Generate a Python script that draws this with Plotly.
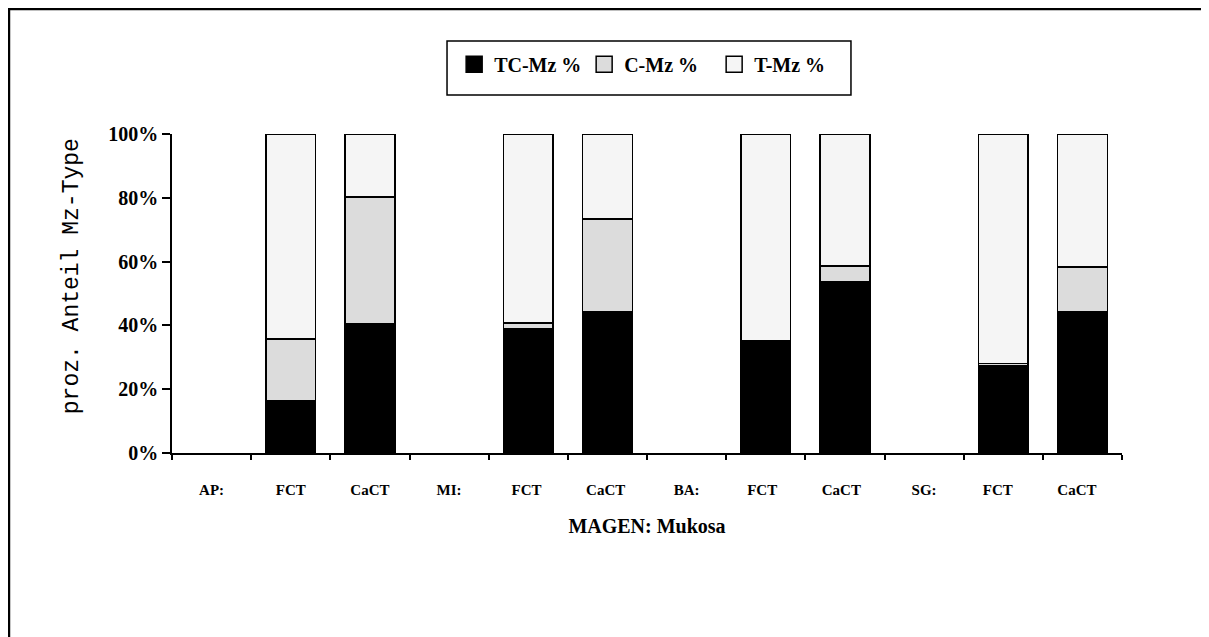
import plotly.graph_objects as go

# ---- data ----
categories = ["AP:", "FCT", "CaCT", "MI:", "FCT", "CaCT", "BA:", "FCT", "CaCT", "SG:", "FCT", "CaCT"]
tc_mz = [None, 16.5, 40.5, None, 38.9, 44.2, None, 34.5, 53.6, None, 27.5, 44.2]
c_mz = [None, 19.2, 39.7, None, 1.8, 29.2, None, 0.6, 5.0, None, 0.6, 14.1]
t_mz = [None if a is None else round(100 - a - b, 1) for a, b in zip(tc_mz, c_mz)]
series_names = ["TC-Mz %", "C-Mz %", "T-Mz %"]
y_tick_values = [0, 20, 40, 60, 80, 100]
y_tick_labels = ["0%", "20%", "40%", "60%", "80%", "100%"]
y_title = "proz. Anteil Mz-Type"
x_title = "MAGEN: Mukosa"

# unique category keys (trailing spaces keep repeated labels distinct)
seen = {}
keys = []
for c in categories:
    n = seen.get(c, 0)
    keys.append(c + " " * n)
    seen[c] = n + 1

MONO = "Liberation Mono, DejaVu Sans Mono, monospace"
SERIF = "Liberation Serif, Times New Roman, serif"
colors = ["#000000", "#dcdcdc", "#f5f5f5"]

fig = go.Figure()
for name, vals, col in zip(series_names, [tc_mz, c_mz, t_mz], colors):
    fig.add_trace(go.Bar(
        x=keys, y=vals, name=name, showlegend=False,
        marker=dict(color=col, line=dict(color="black", width=1.5)),
        hoverinfo="skip",
    ))
# legend-only entries with larger square swatches
for name, col in zip(series_names, colors):
    fig.add_trace(go.Scatter(
        x=[None], y=[None], name=name, mode="markers",
        marker=dict(symbol="square", size=20, color=col,
                    line=dict(color="black", width=1.5)),
        hoverinfo="skip",
    ))

fig.update_layout(
    width=1209, height=637,
    barmode="stack", bargap=0.37,
    paper_bgcolor="white", plot_bgcolor="white",
    margin=dict(l=164, r=95, t=126, b=192, autoexpand=False),
    font=dict(family=SERIF, color="black", size=16),
    showlegend=True,
    legend=dict(
        orientation="h", x=0.297, xanchor="left", y=1.219, yanchor="middle",
        borderwidth=0, bgcolor="rgba(0,0,0,0)",
        font=dict(family=SERIF, size=20, weight="bold"),
        traceorder="normal", entrywidth=85, entrywidthmode="pixels",
    ),
    xaxis=dict(
        type="category", tickson="boundaries", showline=True, linecolor="black",
        linewidth=1.5, ticks="outside", ticklen=5, tickwidth=1.5, tickcolor="black",
        tickfont=dict(family=SERIF, size=15, weight="bold"),
        ticklabelstandoff=22,
        showgrid=False, zeroline=False,
        title=dict(text=x_title, standoff=22,
                   font=dict(family=SERIF, size=20, weight="bold")),
    ),
    yaxis=dict(
        range=[0, 100], tickvals=y_tick_values, ticktext=y_tick_labels,
        showline=True, linecolor="black", linewidth=1.5,
        ticks="outside", ticklen=8, tickwidth=1.5, tickcolor="black",
        tickfont=dict(family=SERIF, size=20, weight="bold"),
        showgrid=False, zeroline=False,
    ),
    annotations=[dict(
        text=y_title, textangle=-90, xref="paper", yref="paper",
        x=-0.105, y=0.555, xanchor="center", yanchor="middle", showarrow=False,
        font=dict(family=MONO, size=23, color="black"),
    )],
    shapes=[
        dict(type="rect", xref="paper", yref="paper",
             x0=-0.1716, x1=1.12, y0=-0.65, y1=1.392,
             line=dict(color="black", width=2.5), fillcolor="rgba(0,0,0,0)",
             layer="below"),
        dict(type="rect", xref="paper", yref="paper",
             x0=0.2895, x1=0.7147, y0=1.1223, y1=1.2915,
             line=dict(color="black", width=1.5), fillcolor="white",
             layer="below"),
    ],
)

fig.write_html("out.html")
